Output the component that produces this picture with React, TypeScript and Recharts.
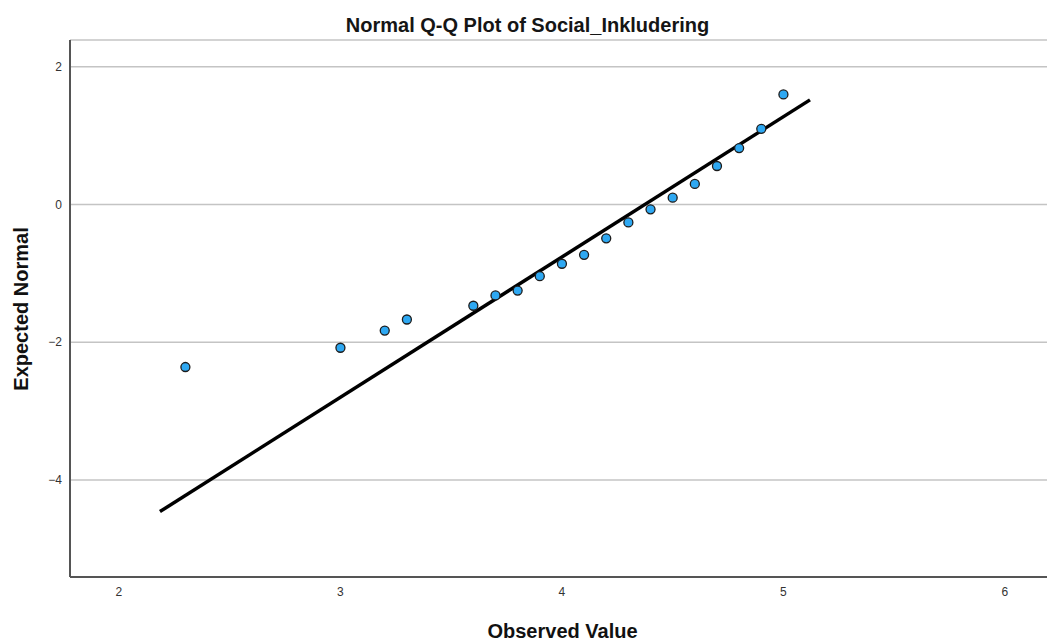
import React from 'react';
import { ComposedChart, Scatter, XAxis, YAxis, CartesianGrid } from 'recharts';

const observed = [2.3, 3.0, 3.2, 3.3, 3.6, 3.7, 3.8, 3.9, 4.0, 4.1, 4.2, 4.3, 4.4, 4.5, 4.6, 4.7, 4.8, 4.9, 5.0];
const expected = [-2.36, -2.08, -1.83, -1.67, -1.47, -1.32, -1.25, -1.04, -0.86, -0.73, -0.49, -0.26, -0.07, 0.1, 0.3, 0.56, 0.82, 1.1, 1.6];
const lineX = [2.185, 5.12];
const lineY = [-4.46, 1.52];
const xTicks = [2, 3, 4, 5, 6];
const yTicks = [-4, -2, 0, 2];

const points = observed.map((x, i) => ({ x, y: expected[i] }));
const fit = lineX.map((x, i) => ({ x, y: lineY[i] }));

const fmt = (v: number) => String(v).replace('-', '\u2212');

const Dot = (p: any) => (
  <circle cx={p.cx} cy={p.cy} r={4.5} fill="#2ea8f2" stroke="#1c1c1c" strokeWidth={1.3} />
);

export default function App() {
  const font = 'Arial, "Liberation Sans", sans-serif';
  return (
    <div style={{ position: 'absolute', left: 0, top: 0, width: 1047, height: 643, background: '#fff', fontFamily: font }}>
      <ComposedChart width={1047} height={643} margin={{ top: 40, right: 0, bottom: 0, left: 0 }}>
        <CartesianGrid horizontal vertical={false} stroke="#c4c4c4" strokeWidth={1.5} />
        <XAxis
          type="number"
          dataKey="x"
          domain={[1.779, 6.19]}
          ticks={xTicks}
          allowDataOverflow
          height={66}
          tickLine={false}
          tickSize={0}
          tickMargin={10}
          axisLine={{ stroke: '#555', strokeWidth: 2 }}
          tick={{ fill: '#333', fontSize: 12, fontFamily: font }}
          tickFormatter={fmt}
        />
        <YAxis
          type="number"
          dataKey="y"
          domain={[-5.41, 2.39]}
          ticks={yTicks}
          allowDataOverflow
          width={70}
          tickLine={false}
          tickSize={0}
          tickMargin={8}
          axisLine={{ stroke: '#555', strokeWidth: 2 }}
          tick={{ fill: '#333', fontSize: 12, fontFamily: font }}
          tickFormatter={fmt}
        />
        <Scatter data={fit} line={{ stroke: '#000', strokeWidth: 3.5 }} shape={() => null} isAnimationActive={false} />
        <Scatter data={points} shape={Dot} isAnimationActive={false} />
      </ComposedChart>
      <div style={{ position: 'absolute', left: 0, width: 1047, top: 14, textAlign: 'center', fontSize: 20, lineHeight: '23px', fontWeight: 'bold', color: '#151515', paddingLeft: 8, boxSizing: 'border-box' }}>
        Normal Q-Q Plot of Social_Inkludering
      </div>
      <div style={{ position: 'absolute', left: 70, width: 977, top: 620, textAlign: 'center', fontSize: 20, lineHeight: '23px', fontWeight: 'bold', color: '#111', paddingLeft: 8, boxSizing: 'border-box' }}>
        Observed Value
      </div>
      <div style={{ position: 'absolute', left: 21, top: 309, transform: 'translate(-50%, -50%) rotate(-90deg)', whiteSpace: 'nowrap', fontSize: 20, lineHeight: '23px', fontWeight: 'bold', color: '#111' }}>
        Expected Normal
      </div>
    </div>
  );
}
